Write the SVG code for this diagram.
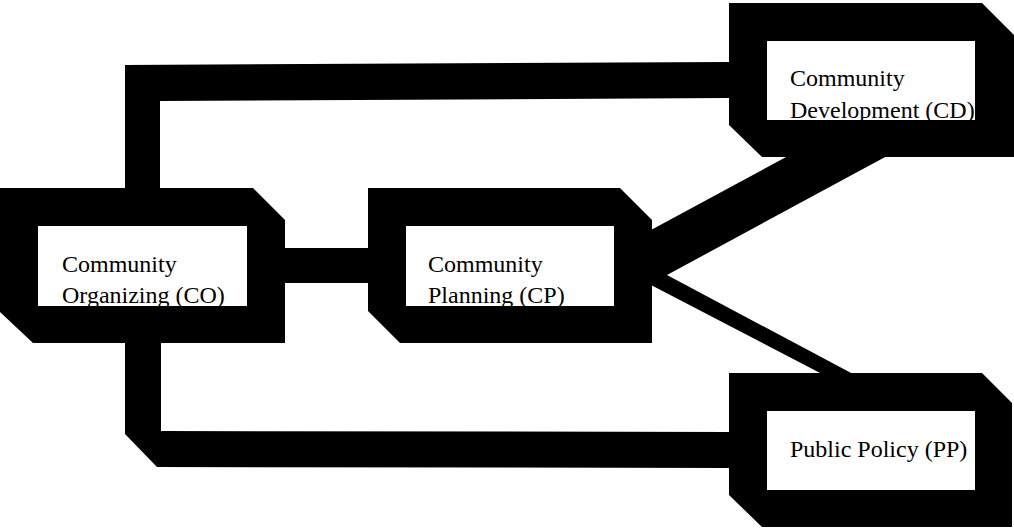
<svg xmlns="http://www.w3.org/2000/svg" width="1014" height="529" viewBox="0 0 1014 529">
<style>
.frame{fill:#000;fill-rule:evenodd;stroke:none}
.conn{fill:#000;stroke:none}
.lbl{font-family:"Liberation Serif","Times New Roman",serif;font-size:24px;fill:#000}
</style>
<rect x="0" y="0" width="1014" height="529" fill="#fff"/>
<g id="connectors">
<path class="conn" d="M125,188 V65 L729,62 V98 L160,101 V188 Z"/>
<rect class="conn" x="284" y="248" width="85" height="35"/>
<path class="conn" d="M125,342 V434 L157,467 L730,468 V432 L161,431 V342 Z"/>
<path class="conn" d="M651,230 L788,156 L887,156 L667,275 L853,374 L822,374 L651,285 Z"/>
</g>
<g id="node-co">
<text class="lbl" x="62" y="272">Community</text>
<text class="lbl" x="62" y="303">Organizing (CO)</text>
<path class="frame" d="M0,188 H253 L285,220 V343 H33 L0,312 Z M38,226 V306 H247 V226 Z"/>
</g>
<g id="node-cp">
<text class="lbl" x="428" y="272">Community</text>
<text class="lbl" x="428" y="303">Planning (CP)</text>
<path class="frame" d="M368,188 H620 L652,220 V343 H400 L368,311 Z M406,226 V306 H614 V226 Z"/>
</g>
<g id="node-cd">
<text class="lbl" x="790" y="86">Community</text>
<text class="lbl" x="790" y="118">Development (CD)</text>
<path class="frame" d="M729,3 H982 L1014,35 V157 H762 L729,125 Z M767,41 V120 H975 V41 Z"/>
</g>
<g id="node-pp">
<text class="lbl" x="790" y="457">Public Policy (PP)</text>
<path class="frame" d="M729,373 H982 L1012,403 V527 H762 L729,495 Z M767,411 V490 H975 V411 Z"/>
</g>
</svg>
